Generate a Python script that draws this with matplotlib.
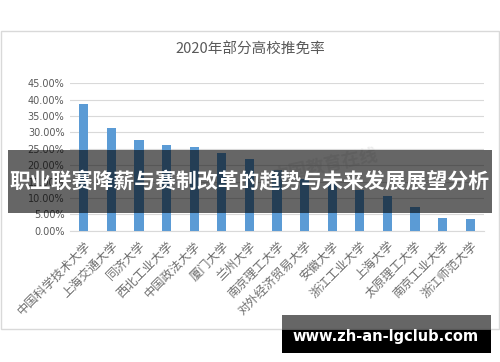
import numpy as np
import matplotlib.pyplot as plt
from matplotlib.patches import Rectangle

plt.rcParams['font.family'] = ['Noto Sans CJK SC', 'DejaVu Sans']

schools = ["中国科学技术大学", "上海交通大学", "同济大学", "西北工业大学", "中国政法大学",
           "厦门大学", "兰州大学", "南京理工大学", "对外经济贸易大学", "安徽大学",
           "浙江工业大学", "上海大学", "太原理工大学", "南京工业大学", "浙江师范大学"]
rates = [38.7, 31.4, 27.7, 26.1, 25.7, 23.8, 21.9, 18.4, 15.8, 14.6, 12.3, 10.5, 7.2, 4.0, 3.7]
yticks = np.arange(0, 46, 5)

W, H = 500, 362
fig = plt.figure(figsize=(5, 3.62), dpi=100)

def fx(px):
    return px / W

def fy(py):
    return 1 - py / H

# chart frame
fig.patches.append(Rectangle((fx(0.5), fy(329)), fx(498.5), (329 - 30.5) / H,
                             transform=fig.transFigure, fill=False,
                             edgecolor='#d9d9d9', linewidth=1, zorder=0))

ax = fig.add_axes([fx(70), fy(230.7), fx(484 - 70), (230.7 - 83.3) / H])
x = np.arange(len(schools))
ax.bar(x, rates, width=0.33, color='#5b9bd5', zorder=3)
ax.set_xlim(-0.5, len(schools) - 0.5)
ax.set_ylim(0, 45)
ax.set_yticks(yticks)
ax.set_yticklabels(["%.2f%%" % v for v in yticks], fontsize=7, color='#595959',
                   family=['DejaVu Sans'])
ax.set_xticks(x)
ax.set_xticklabels(schools, rotation=45, ha='right', rotation_mode='anchor',
                   fontsize=8.8, color='#6e6e6e')
ax.tick_params(length=0, pad=4)
ax.tick_params(axis='x', pad=6)
ax.grid(axis='y', color='#d9d9d9', linewidth=0.8, zorder=0)
for s in ax.spines.values():
    s.set_visible(False)
ax.spines['bottom'].set_visible(True)
ax.spines['bottom'].set_color('#d9d9d9')

fig.text(0.5, fy(50), "2020年部分高校推免率", ha='center', va='center',
         fontsize=10.5, color='#595959')

# faint watermark
fig.text(fx(325), fy(165), "中国教育在线", ha='center', va='center', fontsize=13,
         color='#cccccc', alpha=0.35, rotation=12, fontweight='bold', zorder=5)

# dark banner with headline
fig.patches.append(Rectangle((fx(8), fy(213)), fx(492 - 8), 63 / H,
                             transform=fig.transFigure, facecolor='black',
                             alpha=0.6, edgecolor='none', zorder=10))
fig.text(0.5, fy(182), "职业联赛降薪与赛制改革的趋势与未来发展展望分析",
         ha='center', va='center', fontsize=15, color='white',
         fontweight='bold', zorder=11)

# url badge
fig.patches.append(Rectangle((fx(282), fy(330)), fx(491 - 282), 15 / H,
                             transform=fig.transFigure, facecolor='black',
                             alpha=0.6, edgecolor='none', zorder=10))
fig.patches.append(Rectangle((fx(282), fy(353)), fx(491 - 282), 23 / H,
                             transform=fig.transFigure, facecolor='black',
                             edgecolor='none', zorder=10))
fig.text(fx(386), fy(337), "www.zh-an-lgclub.com", ha='center', va='center',
         fontsize=10.5, color='white', fontweight='bold', zorder=11,
         family=['DejaVu Sans'])

fig.savefig("out.png", dpi=100)
